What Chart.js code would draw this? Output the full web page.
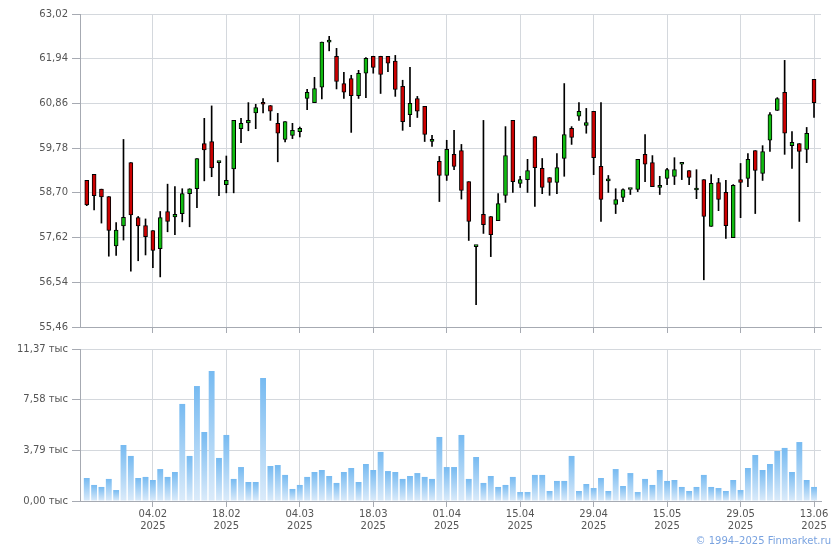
<!DOCTYPE html>
<html>
<head>
<meta charset="utf-8">
<script src="https://cdn.jsdelivr.net/npm/chart.js@4.4.1/dist/chart.umd.min.js"></script>
<style>
  html, body { margin: 0; padding: 0; background: #fff; }
  #wrap { position: relative; width: 840px; height: 550px; overflow: hidden; }
  #priceBox { position: absolute; left: 0; top: 0; width: 840px; height: 340px; }
  #volBox { position: absolute; left: 0; top: 335px; width: 840px; height: 215px; }
  #copy { position: absolute; right: 9px; top: 535px; font: 10px "DejaVu Sans"; color: #7aa3e0; }
</style>
</head>
<body>
<div id="wrap">
  <div id="priceBox"><canvas id="priceChart"></canvas></div>
  <div id="volBox"><canvas id="volChart"></canvas></div>
  <div id="copy">© 1994–2025 Finmarket.ru</div>
</div>
<script>
// Daily candles, one per trading day (index 0..99)
const openVals = [
    59.00, 59.15, 58.79, 58.61, 57.42, 57.90, 59.43, 58.10, 57.91, 57.79,
    57.35, 58.25, 58.12, 58.20, 58.68, 58.80, 59.89, 59.94, 59.43, 58.90,
    59.28, 60.25, 60.39, 60.63, 60.88, 60.81, 60.38, 59.99, 60.09, 60.18,
    60.98, 60.88, 61.25, 62.34, 62.00, 61.34, 61.46, 61.05, 61.59, 62.00,
    62.00, 62.00, 61.88, 61.27, 60.59, 60.98, 60.79, 59.94, 59.46, 59.12,
    59.63, 59.72, 58.97, 57.40, 58.18, 58.13, 58.03, 58.64, 60.45, 58.93,
    59.02, 60.06, 59.29, 59.07, 58.95, 59.53, 60.26, 60.55, 60.33, 60.67,
    59.34, 58.99, 58.42, 58.59, 58.78, 58.78, 59.63, 59.43, 58.83, 59.05,
    59.10, 59.39, 59.24, 58.77, 59.02, 57.89, 58.95, 58.71, 57.62, 59.02,
    59.05, 59.72, 59.17, 59.97, 60.69, 61.13, 59.84, 59.89, 59.75, 61.44
];
const highVals = [
    59.00, 59.15, 58.79, 58.61, 57.98, 59.99, 59.43, 58.13, 58.07, 57.79,
    58.25, 58.91, 58.85, 58.80, 58.80, 59.53, 60.50, 60.80, 59.43, 59.59,
    60.45, 60.50, 60.88, 60.84, 60.98, 60.81, 60.62, 60.42, 60.38, 60.29,
    61.20, 61.49, 62.34, 62.48, 62.19, 61.61, 61.54, 61.66, 61.97, 62.00,
    62.00, 62.00, 62.02, 61.42, 61.73, 61.03, 60.79, 60.09, 59.58, 59.97,
    60.21, 59.87, 58.97, 57.40, 60.45, 58.13, 58.68, 60.30, 60.45, 59.10,
    59.51, 60.06, 59.53, 59.07, 59.65, 61.34, 60.30, 60.88, 60.74, 60.67,
    60.88, 59.12, 58.80, 58.80, 58.78, 59.51, 60.11, 59.60, 59.10, 59.29,
    59.55, 59.39, 59.24, 59.26, 59.02, 59.14, 59.05, 59.00, 58.90, 59.41,
    59.65, 59.72, 59.84, 60.64, 61.00, 61.90, 60.18, 59.89, 60.28, 61.44
];
const lowVals = [
    58.39, 58.29, 57.97, 57.17, 57.19, 57.56, 56.81, 57.06, 57.20, 56.89,
    56.67, 57.76, 57.69, 58.00, 57.88, 58.34, 58.99, 59.09, 58.63, 58.70,
    58.70, 59.91, 60.20, 60.25, 60.63, 60.45, 59.45, 59.93, 60.01, 60.05,
    60.71, 60.88, 60.97, 62.13, 61.21, 60.98, 60.16, 60.98, 61.00, 61.59,
    61.10, 61.63, 61.03, 60.21, 60.30, 60.52, 59.94, 59.82, 58.49, 59.00,
    59.26, 58.55, 57.55, 56.00, 57.72, 57.16, 58.03, 58.47, 58.71, 58.83,
    58.71, 58.37, 58.68, 58.64, 58.68, 59.10, 59.87, 60.45, 60.14, 59.14,
    58.01, 58.71, 58.20, 58.49, 58.66, 58.73, 58.97, 58.85, 58.66, 58.90,
    58.90, 59.02, 58.90, 58.56, 56.60, 57.89, 58.27, 57.60, 57.62, 58.10,
    58.85, 58.20, 59.00, 59.70, 60.69, 59.63, 59.29, 58.01, 59.43, 60.52
];
const closeVals = [
    58.41, 58.63, 58.60, 57.79, 57.80, 58.11, 58.17, 57.90, 57.64, 57.31,
    58.10, 58.01, 58.18, 58.68, 58.80, 59.53, 59.74, 59.30, 59.43, 59.00,
    60.45, 60.38, 60.45, 60.76, 60.84, 60.67, 60.14, 60.42, 60.21, 60.26,
    61.13, 61.22, 62.34, 62.34, 61.39, 61.13, 61.05, 61.59, 61.95, 61.73,
    61.56, 61.83, 61.20, 60.42, 60.86, 60.67, 60.11, 59.99, 59.12, 59.75,
    59.34, 58.76, 58.01, 57.40, 57.93, 57.69, 58.44, 59.60, 58.97, 59.02,
    59.24, 59.31, 58.83, 58.95, 59.31, 60.11, 60.04, 60.67, 60.40, 59.55,
    58.54, 58.99, 58.54, 58.78, 58.78, 59.51, 59.39, 58.85, 58.88, 59.26,
    59.26, 59.39, 59.07, 58.77, 58.13, 58.93, 58.54, 57.91, 58.88, 58.95,
    59.51, 59.24, 59.70, 60.59, 60.98, 60.14, 59.92, 59.70, 60.14, 60.88
];
// Volume, thousands
const volumeVals = [
    1.72, 1.20, 1.05, 1.65, 0.82, 4.19, 3.37, 1.72, 1.80, 1.57,
    2.39, 1.80, 2.17, 7.26, 3.37, 8.60, 5.16, 9.73, 3.22, 4.94,
    1.65, 2.54, 1.42, 1.42, 9.20, 2.62, 2.69, 1.95, 0.90, 1.20,
    1.80, 2.17, 2.32, 1.87, 1.35, 2.17, 2.47, 1.42, 2.77, 2.32,
    3.67, 2.24, 2.17, 1.65, 1.87, 2.09, 1.80, 1.65, 4.79, 2.54,
    2.54, 4.94, 1.65, 3.29, 1.35, 1.87, 1.05, 1.20, 1.80, 0.67,
    0.67, 1.95, 1.95, 0.75, 1.50, 1.50, 3.37, 0.75, 1.27, 0.97,
    1.72, 0.75, 2.39, 1.12, 2.09, 0.67, 1.65, 1.20, 2.32, 1.50,
    1.57, 1.05, 0.75, 1.05, 1.95, 1.05, 0.97, 0.75, 1.57, 0.82,
    2.47, 3.44, 2.32, 2.77, 3.74, 3.97, 2.17, 4.41, 1.57, 1.05
];
// Date ticks: trading-day index and label
const xTickIdx = [9, 19, 29, 39, 49, 59, 69, 79, 89, 99];
const xTickLabels = ['04.02', '18.02', '04.03', '18.03', '01.04', '15.04', '29.04', '15.05', '29.05', '13.06'];
const xTickYear = '2025';
const priceTicks = [55.46, 56.54, 57.62, 58.70, 59.78, 60.86, 61.94, 63.02];
const volumeTicks = [0, 3.79, 7.58, 11.37];

const upColor = '#10bb10';
const downColor = '#cc0000';
const gridColor = '#d4d8dd';
const axisColor = '#a6aab2';

Chart.defaults.font.family = '"DejaVu Sans", Verdana, sans-serif';
Chart.defaults.font.size = 10;
Chart.defaults.color = '#555';

function fmt(v) {
    return v.toFixed(2).replace('.', ',');
}

function xScale(showLabels, height) {
    return {
        type: 'linear',
        min: -0.92,
        max: 99.95,
        offset: false,
        afterBuildTicks: s => { s.ticks = xTickIdx.map(v => ({ value: v })); },
        afterFit: s => { s.height = height; },
        grid: { color: gridColor, tickColor: axisColor, tickLength: 6, offset: false },
        border: { color: axisColor },
        ticks: {
            display: showLabels,
            maxRotation: 0,
            autoSkip: false,
            padding: 1,
            callback: v => {
                const k = xTickIdx.indexOf(v);
                return k < 0 ? '' : [xTickLabels[k], xTickYear];
            }
        }
    };
}

function yScale(ticks, suffix) {
    return {
        min: ticks[0],
        max: ticks[ticks.length - 1],
        afterBuildTicks: s => { s.ticks = ticks.map(v => ({ value: v })); },
        afterFit: s => { s.width = 80; },
        grid: { color: gridColor, tickColor: axisColor, tickLength: 8 },
        border: { color: axisColor },
        ticks: { padding: 4, callback: v => fmt(v) + suffix }
    };
}

const idx = openVals.map((_, i) => i);
const bodies = idx.map(i => ({ x: i, y: [openVals[i], closeVals[i]] }));
const wicks = idx.map(i => ({ x: i, y: [lowVals[i], highVals[i]] }));
const candleColors = idx.map(i => closeVals[i] >= openVals[i] ? upColor : downColor);

new Chart(document.getElementById('priceChart'), {
    type: 'bar',
    data: {
        datasets: [
            {
                data: bodies,
                order: 0,
                grouped: false,
                barThickness: 4,
                minBarLength: 2,
                backgroundColor: candleColors,
                borderColor: '#000',
                borderWidth: 1,
                borderSkipped: false
            },
            {
                data: wicks,
                order: 1,
                grouped: false,
                barThickness: 1,
                backgroundColor: '#000',
                borderWidth: 0
            }
        ]
    },
    options: {
        responsive: true,
        maintainAspectRatio: false,
        animation: false,
        layout: { padding: { top: 14, right: 19, left: 0, bottom: 0 } },
        plugins: { legend: { display: false }, tooltip: { enabled: false } },
        scales: {
            x: xScale(false, 13),
            y: yScale(priceTicks, '')
        }
    }
});

// each volume bar gets its own top-to-bottom gradient
function volumeFill(c) {
    const y = c.chart.scales.y;
    if (!y || !c.raw) return '#9fcdf5';
    const top = y.getPixelForValue(c.raw.y);
    const bottom = y.getPixelForValue(0);
    if (!isFinite(top) || !isFinite(bottom)) return '#9fcdf5';
    const g = c.chart.ctx.createLinearGradient(0, top, 0, bottom);
    g.addColorStop(0, '#76baf1');
    g.addColorStop(1, '#dbebfa');
    return g;
}

new Chart(document.getElementById('volChart'), {
    type: 'bar',
    data: {
        datasets: [{
            data: idx.map(i => ({ x: i, y: volumeVals[i] })),
            barPercentage: 0.8,
            categoryPercentage: 1,
            borderWidth: 0,
            backgroundColor: volumeFill
        }]
    },
    options: {
        responsive: true,
        maintainAspectRatio: false,
        animation: false,
        layout: { padding: { top: 14, right: 19, left: 0, bottom: 0 } },
        plugins: { legend: { display: false }, tooltip: { enabled: false } },
        scales: {
            x: xScale(true, 49),
            y: yScale(volumeTicks, ' тыс')
        }
    }
});
</script>
</body>
</html>
